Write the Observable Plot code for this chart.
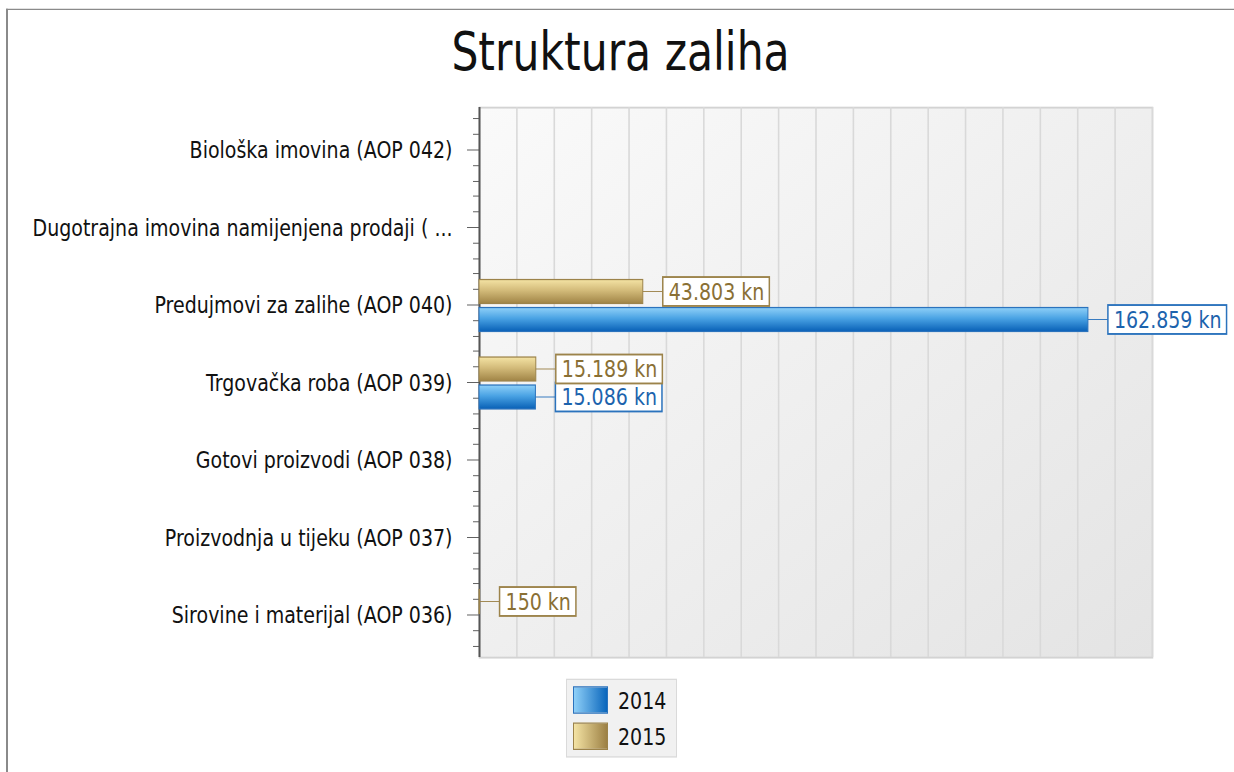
<!DOCTYPE html>
<html><head><meta charset="utf-8">
<script src="https://cdn.jsdelivr.net/npm/d3@7"></script>
<script src="https://cdn.jsdelivr.net/npm/@observablehq/plot@0.6"></script>
<style>
html,body{margin:0;padding:0;background:#fff;overflow:hidden;width:1234px;height:772px}
#wrap{position:relative;width:1234px;height:617.6px;transform:scaleY(1.25);transform-origin:0 0;font-family:"DejaVu Sans",sans-serif}
#frame{position:absolute;left:6px;top:6.8px;width:1228px;height:630px;border-top:1.8px solid #8a8a8a;border-left:2px solid #8a8a8a;box-sizing:border-box}
#title{position:absolute;left:7px;right:0;top:20.85px;text-align:center;font-size:42.5px;line-height:42.5px;color:#111;white-space:nowrap}
#chart{position:absolute;left:0;top:78px}
#legend{position:absolute;left:566px;top:543.2px;width:111px;height:63.2px;box-sizing:border-box;background:#f1f1f1;border:1.6px solid #dadada}
.sw{position:absolute;left:6px;width:35px;height:22.4px;box-sizing:border-box}
.lt{position:absolute;left:51px;font-size:19px;line-height:22.4px;color:#111}
</style></head>
<body>
<div id="wrap">
  <div id="frame"></div>
  <div id="title">Struktura zaliha</div>
  <div id="chart"></div>
  <div id="legend"></div>
</div>
<script>
// ---- data ----
const categories = [
  "Biološka imovina (AOP 042)",
  "Dugotrajna imovina namijenjena prodaji ( ...",
  "Predujmovi za zalihe (AOP 040)",
  "Trgovačka roba (AOP 039)",
  "Gotovi proizvodi (AOP 038)",
  "Proizvodnja u tijeku (AOP 037)",
  "Sirovine i materijal (AOP 036)"
];
const series = ["2014", "2015"];
const values2014 = [null, null, 162859, 15086, null, null, null];
const values2015 = [null, null, 43803, 15189, null, null, 150];
const xTicks = d3.range(0, 180001, 10000);

// ---- helpers ----
const hr = d3.formatLocale({decimal: ",", thousands: ".", grouping: [3], currency: ["", " kn"]});
const fmt = v => hr.format(",")(v) + " kn";
const ctx = document.createElement("canvas").getContext("2d");
ctx.font = "19px 'DejaVu Sans'";
const textW = s => ctx.measureText(s).width;

const marginTop = 7.6, plotH = 440, marginBottom = 8;
const half = plotH / categories.length / 2;

const styles = {
  "2014": {grad: "url(#gBlue)", stroke: "#2b73bd", text: "#1c63ad", top: 1.6, bottom: 21.6},
  "2015": {grad: "url(#gGold)", stroke: "#9c834a", text: "#8a7034", top: -20.8, bottom: -0.8}
};
const valuesBy = {"2014": values2014, "2015": values2015};

const marks = [
  () => {
    const ns = "http://www.w3.org/2000/svg";
    const defs = document.createElementNS(ns, "defs");
    defs.innerHTML = `
      <linearGradient id="gBg" x1="0" y1="0" x2="1" y2="1">
        <stop offset="0" stop-color="#fafafa"/><stop offset="1" stop-color="#e4e4e4"/></linearGradient>
      <linearGradient id="gBlue" x1="0" y1="0" x2="0" y2="1">
        <stop offset="0" stop-color="#8fd0f8"/><stop offset="0.45" stop-color="#4aa3e4"/><stop offset="1" stop-color="#0860b6"/></linearGradient>
      <linearGradient id="gGold" x1="0" y1="0" x2="0" y2="1">
        <stop offset="0" stop-color="#f4e3a4"/><stop offset="0.45" stop-color="#d3bb7a"/><stop offset="1" stop-color="#a08446"/></linearGradient>`;
    return defs;
  },
  Plot.frame({fill: "url(#gBg)", stroke: "#d3d3d3", strokeWidth: 1.5}),
  Plot.ruleX(xTicks.slice(1), {stroke: "#d9d9d9", strokeWidth: 1.6}),
  Plot.ruleX([0], {stroke: "#555", strokeWidth: 2}),
  // major ticks
  Plot.barX(categories, {x1: () => 0, x2: () => 0, y: d => d, insetLeft: -12, insetRight: 0,
    insetTop: half - 0.8, insetBottom: half - 0.8, fill: "#555"}),
  // minor ticks
  ...[-2, -1, 1, 2].map(k => {
    const off = k * half * 2 / 5;
    return Plot.barX(categories, {x1: () => 0, x2: () => 0, y: d => d, insetLeft: -6, insetRight: 0,
      insetTop: half + off - 0.8, insetBottom: half - off - 0.8, fill: "#555"});
  }),
  // y labels
  Plot.text(categories, {y: d => d, text: d => d, frameAnchor: "left", textAnchor: "end", dx: -27,
    fill: "#111", fontSize: 19})
];

for (const s of series) {
  const st = styles[s];
  const rows = categories.map((c, i) => ({cat: c, value: valuesBy[s][i]})).filter(d => d.value != null);
  const center = (st.top + st.bottom) / 2;
  marks.push(Plot.barX(rows, {x1: () => 0, x2: "value", y: "cat", fill: st.grad, stroke: st.stroke, strokeWidth: 1,
    insetTop: half + st.top, insetBottom: half - st.bottom}));
  // connector
  marks.push(Plot.barX(rows, {x1: "value", x2: "value", y: "cat", fill: st.stroke, insetLeft: 0, insetRight: -20,
    insetTop: half + center - 0.8, insetBottom: half - center - 0.8}));
  // boxes
  for (const r of rows) {
    const W = textW(fmt(r.value)) + 11;
    marks.push(Plot.barX([r], {x1: "value", x2: "value", y: "cat", fill: "white", stroke: st.stroke, strokeWidth: 1.5,
      insetLeft: 20, insetRight: -(20 + W), insetTop: half + center - 12, insetBottom: half - center - 12}));
  }
  marks.push(Plot.text(rows, {x: "value", y: "cat", text: d => fmt(d.value), dx: 25.5, dy: center,
    textAnchor: "start", fill: st.text, fontSize: 19}));
}

const chart = Plot.plot({
  width: 1234, height: marginTop + plotH + marginBottom,
  marginLeft: 479, marginRight: 82, marginTop, marginBottom,
  style: {fontFamily: "DejaVu Sans", fontSize: "19px", background: "transparent", overflow: "visible"},
  x: {domain: [0, 180000], axis: null},
  y: {domain: categories, padding: 0, axis: null},
  marks
});
document.getElementById("chart").appendChild(chart);

// legend
const legend = document.getElementById("legend");
const swatch = {
  "2014": "linear-gradient(to right,#8fd0f8,#0a66bc)",
  "2015": "linear-gradient(to right,#f4e3a4,#9c8044)"
};
series.forEach((s, i) => {
  const top = 4.8 + i * 28.8;
  const sw = document.createElement("div");
  sw.className = "sw";
  sw.style.top = top + "px";
  sw.style.background = swatch[s];
  sw.style.border = "1px solid " + styles[s].stroke;
  legend.appendChild(sw);
  const t = document.createElement("div");
  t.className = "lt";
  t.style.top = top + "px";
  t.textContent = s;
  legend.appendChild(t);
});
</script>
</body></html>
